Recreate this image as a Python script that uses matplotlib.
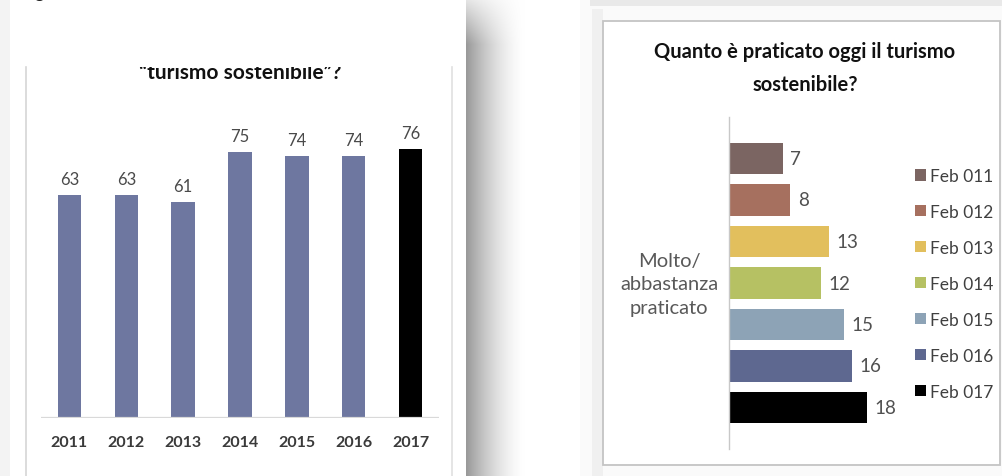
"""Due grafici affiancati sul turismo sostenibile."""
import numpy as np
import matplotlib
matplotlib.use('Agg')
import matplotlib.pyplot as plt
from matplotlib.patches import Rectangle

plt.rcParams['font.family'] = ['Lato', 'DejaVu Sans']

W, H = 1003, 477

# left chart: "turismo sostenibile" per anno
years = ['2011', '2012', '2013', '2014', '2015', '2016', '2017']
pct = [63, 63, 61, 75, 74, 74, 76]
left_colors = ['#6e77a0'] * 6 + ['#000000']

# right chart: molto/abbastanza praticato
waves = ['Feb 011', 'Feb 012', 'Feb 013', 'Feb 014', 'Feb 015', 'Feb 016', 'Feb 017']
practiced = [7, 8, 13, 12, 15, 16, 18]
wave_colors = ['#7b6562', '#a6705f', '#e2bf5d', '#b6c163', '#8da3b6', '#5e6890', '#000000']


def px(x0, y0, x1, y1):
    # pixel box (top-left origin) -> figure fraction rect
    return [x0 / W, 1 - y1 / H, (x1 - x0) / W, (y1 - y0) / H]


fig = plt.figure(figsize=(W / 100, H / 100), dpi=100)

# ---- background (screenshot frames, shadow) ----
bg = fig.add_axes([0, 0, 1, 1], zorder=-10)
bg.set_xlim(0, W); bg.set_ylim(H, 0); bg.axis('off')
bg.add_patch(Rectangle((0, 0), 10, H, fc='#f3f3f3', ec='none'))
bg.plot([26, 26], [68, H], color='#d6d6d6', lw=1.2)
bg.plot([452, 452], [68, H], color='#e0e0e0', lw=1.2)
bg.text(39, -2, 'g', fontsize=13, fontweight='bold', ha='center', va='baseline',
        color='#222222', clip_on=True)

# shadow between the two screenshots
gx = np.linspace(0, 1, 60)
prof = 1 - 0.40 * np.clip(1 - gx, 0, 1) ** 1.6
gy = np.linspace(0, 1, H)
vert = np.clip(0.25 + gy * H / 60, 0, 1)
shade = 1 - np.outer(vert, 1 - prof)
bg.imshow(np.dstack([shade] * 3), extent=(466, 526, H, 0), aspect='auto',
          interpolation='bilinear', zorder=1)

bg.add_patch(Rectangle((580, 0), W - 580, H, fc='#fafafa', ec='none', zorder=0.5))
bg.add_patch(Rectangle((590, 0), W - 590, 7, fc='#e9e9e9', ec='none', zorder=2))
bg.add_patch(Rectangle((592, 10), 11, H - 10, fc='#f0f0f0', ec='none', zorder=2))
bg.add_patch(Rectangle((603, 22), 397, 444, fc='white', ec='#c4c4c4', lw=1.3, zorder=3))

# ---- left chart ----
ax1 = fig.add_axes(px(41, 68, 439, 419))
ax1.patch.set_alpha(0)
ax1.bar(range(len(years)), pct, width=0.41, color=left_colors)
ax1.set_xlim(-0.5, 6.5)
ax1.set_ylim(0, 99)
for s in ax1.spines.values():
    s.set_visible(False)
ax1.axhline(0, color='#d9d9d9', lw=1.6)
ax1.set_yticks([])
ax1.set_xticks(range(len(years)), years)
ax1.tick_params(axis='x', length=0, pad=12, labelsize=11.5, labelcolor='#3a3a3a')
for lab in ax1.get_xticklabels():
    lab.set_fontweight('bold')
for i, v in enumerate(pct):
    ax1.annotate(str(v), (i, v), xytext=(0, 11.5), textcoords='offset points',
                 ha='center', va='center', fontsize=12, color='#4a4a4a')
# title cut off at the top of the screenshot (axes top = clip line)
ax1.text(3.0, 95.9, '\u201cturismo sostenibile\u201d?', ha='center', va='baseline',
         fontsize=15, fontweight='bold', color='#111111', clip_on=True)

# ---- right chart ----
ax2 = fig.add_axes(px(729, 118, 905, 450))
ax2.patch.set_alpha(0)
bars = ax2.barh(range(len(waves)), practiced, height=0.77, color=wave_colors)
ax2.set_xlim(0, 176 / 7.67)
ax2.set_ylim(7.0, -1.0)
for k in ('top', 'right', 'bottom'):
    ax2.spines[k].set_visible(False)
ax2.spines['left'].set_color('#c8c8c8')
ax2.spines['left'].set_linewidth(1.0)
ax2.set_xticks([]); ax2.set_yticks([])
for i, v in enumerate(practiced):
    ax2.annotate(str(v), (v, i), xytext=(5.5, 0), textcoords='offset points',
                 ha='left', va='center', fontsize=13.5, color='#505050')

fig.text(669 / W, 1 - 285 / H, 'Molto/\nabbastanza\npraticato', ha='center', va='center',
         fontsize=14.5, color='#595959', linespacing=1.45)
fig.text(805 / W, 1 - 52 / H, 'Quanto è praticato oggi il turismo', ha='center',
         va='center', fontsize=14.5, fontweight='bold', color='#111111')
fig.text(805 / W, 1 - 85 / H, 'sostenibile?', ha='center', va='center',
         fontsize=14.5, fontweight='bold', color='#111111')

leg = ax2.legend(bars.patches, waves, loc='upper left',
                 bbox_to_anchor=(915 / W, 1 - 169 / H), bbox_transform=fig.transFigure,
                 frameon=False, fontsize=12.5, handlelength=0.62, handleheight=0.62,
                 handletextpad=0.22, labelspacing=1.15, borderpad=0, borderaxespad=0)
for t in leg.get_texts():
    t.set_color('#404040')

fig.savefig('out.png', dpi=100)
